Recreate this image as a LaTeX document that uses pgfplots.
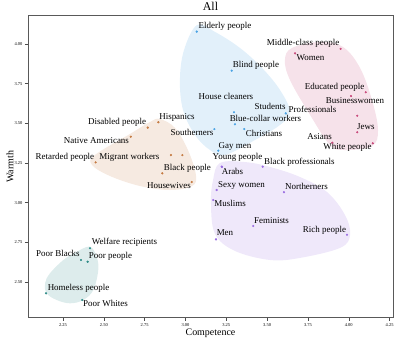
\documentclass[border=0pt]{standalone}
\usepackage{fontspec}
\setmainfont{Liberation Serif}
\usepackage{pgfplots}
\pgfplotsset{compat=1.18}
\definecolor{cB}{HTML}{4BA3E3}
\definecolor{cO}{HTML}{C47A42}
\definecolor{cP}{HTML}{C8497B}
\definecolor{cV}{HTML}{9A6DE0}
\definecolor{cT}{HTML}{2E8B87}
\newcommand\lab[3]{\node[font=\fontsize{9}{10}\selectfont, inner sep=0pt, text height=1.45ex, text depth=0.25ex] at (axis cs:#1,#2) {#3};}
\begin{document}
\begin{tikzpicture}
\begin{axis}[
  at={(0,0)}, anchor=south west,
  scale only axis, width=365bp, height=302bp,
  xmin=2.0357, xmax=4.2708, ymin=2.2754, ymax=4.1783,
  xtick={2.25,2.5,2.75,3,3.25,3.5,3.75,4,4.25},
  ytick={2.5,2.75,3,3.25,3.5,3.75,4},
  xtick pos=bottom, ytick pos=left,
  tick align=outside, major tick length=3bp,
  tick style={color=black!70, line width=0.5pt},
  axis line style={color=black!65, line width=0.9pt},
  /pgf/number format/.cd, fixed, fixed zerofill, precision=2, assume math mode=true,
  /pgfplots/.cd,
  ticklabel style={font=\fontsize{4.5}{5}\selectfont},
  xticklabel style={yshift=1bp},
  yticklabel style={xshift=1bp},
  xlabel={Competence}, xlabel style={font=\fontsize{10}{11}\selectfont, at={(axis description cs:0.5,-0.051)}, anchor=center},
  ylabel={Warmth}, ylabel style={font=\fontsize{10}{11}\selectfont, at={(axis description cs:-0.049,0.5)}, anchor=center, rotate=0},
  clip=false,
]
% hulls
\addplot[draw=none, fill=cB, fill opacity=0.16, smooth cycle, tension=0.6] coordinates {
(3.071,4.120) (3.181,4.076) (3.334,3.975) (3.469,3.849) (3.579,3.710) (3.640,3.572) (3.579,3.490) (3.426,3.395) (3.242,3.301) (3.150,3.332) (3.058,3.427) (2.985,3.584) (2.966,3.773) (2.991,3.962)};
\addplot[draw=none, fill=cO, fill opacity=0.16, smooth cycle, tension=0.6] coordinates {
(2.844,3.527) (2.936,3.471) (3.015,3.332) (3.064,3.175) (3.040,3.105) (2.905,3.080) (2.722,3.105) (2.538,3.168) (2.428,3.238) (2.446,3.301) (2.660,3.433) (2.783,3.509)};
\addplot[draw=none, fill=cP, fill opacity=0.16, smooth cycle, tension=0.6] coordinates {
(3.652,3.975) (3.824,4.013) (3.965,3.981) (4.069,3.849) (4.142,3.647) (4.179,3.458) (4.142,3.357) (3.977,3.332) (3.885,3.364) (3.763,3.553) (3.640,3.773) (3.609,3.899)};
\addplot[draw=none, fill=cV, fill opacity=0.16, smooth cycle, tension=0.6] coordinates {
(3.211,3.250) (3.365,3.256) (3.518,3.225) (3.701,3.162) (3.867,3.067) (3.977,2.922) (4.008,2.796) (3.946,2.715) (3.701,2.652) (3.518,2.639) (3.303,2.696) (3.181,2.803) (3.156,2.998) (3.169,3.143)};
\addplot[draw=none, fill=cT, fill opacity=0.16, smooth cycle, tension=0.6] coordinates {
(2.415,2.723) (2.456,2.660) (2.466,2.576) (2.436,2.450) (2.374,2.387) (2.293,2.366) (2.211,2.387) (2.150,2.429) (2.140,2.492) (2.170,2.555) (2.252,2.639) (2.334,2.691)};
% points
\addplot[only marks, mark=*, mark size=0.9pt, cB, mark options={draw=none}] coordinates {
(3.069,4.078) (3.283,3.832) (3.297,3.570) (3.303,3.494) (3.177,3.464) (3.360,3.464) (3.614,3.563) (3.201,3.328)};
\addplot[only marks, mark=*, mark size=0.9pt, cO, mark options={draw=none}] coordinates {
(2.834,3.507) (2.769,3.473) (2.665,3.416) (2.450,3.254) (2.911,3.300) (2.981,3.300) (2.858,3.185) (3.038,3.130)};
\addplot[only marks, mark=*, mark size=0.9pt, cP, mark options={draw=none}] coordinates {
(3.950,3.969) (3.671,3.941) (4.104,3.696) (4.014,3.672) (4.052,3.548) (4.052,3.444) (3.899,3.378) (4.147,3.374)};
\addplot[only marks, mark=*, mark size=0.9pt, cV, mark options={draw=none}] coordinates {
(3.222,3.227) (3.224,3.226) (3.473,3.227) (3.191,3.080) (3.170,3.017) (3.603,3.066) (3.415,2.853) (3.187,2.769) (3.989,2.798)};
\addplot[only marks, mark=*, mark size=0.9pt, cT, mark options={draw=none}] coordinates {
(2.415,2.713) (2.360,2.639) (2.401,2.628) (2.146,2.429) (2.368,2.387)};
% title
\node[font=\fontsize{12}{13}\selectfont, inner sep=0pt, text height=1.45ex, text depth=0.25ex] at (axis description cs:0.5,1.026) {All};
% labels
\lab{3.242}{4.113}{Elderly people}
\lab{3.432}{3.868}{Blind people}
\lab{3.248}{3.666}{House cleaners}
\lab{3.518}{3.603}{Students}
\lab{3.778}{3.584}{Professionals}
\lab{3.490}{3.527}{Blue-collar workers}
\lab{3.481}{3.433}{Christians}
\lab{3.040}{3.439}{Southerners}
\lab{3.303}{3.357}{Gay men}
\lab{3.319}{3.288}{Young people}
\lab{3.698}{3.256}{Black professionals}
\lab{3.288}{3.193}{Arabs}
\lab{3.343}{3.112}{Sexy women}
\lab{3.741}{3.099}{Northerners}
\lab{3.273}{2.992}{Muslims}
\lab{3.527}{2.885}{Feminists}
\lab{3.851}{2.828}{Rich people}
\lab{3.242}{2.809}{Men}
\lab{2.948}{3.540}{Hispanics}
\lab{2.581}{3.509}{Disabled people}
\lab{2.455}{3.389}{Native Americans}
\lab{2.262}{3.288}{Retarded people}
\lab{2.657}{3.288}{Migrant workers}
\lab{3.012}{3.219}{Black people}
\lab{2.899}{3.105}{Housewives}
\lab{3.720}{4.006}{Middle-class people}
\lab{3.766}{3.912}{Women}
\lab{3.913}{3.729}{Educated people}
\lab{4.038}{3.641}{Businesswomen}
\lab{4.105}{3.477}{Jews}
\lab{3.821}{3.414}{Asians}
\lab{3.992}{3.351}{White people}
\lab{2.627}{2.752}{Welfare recipients}
\lab{2.219}{2.677}{Poor Blacks}
\lab{2.541}{2.664}{Poor people}
\lab{2.345}{2.463}{Homeless people}
\lab{2.510}{2.362}{Poor Whites}
\end{axis}
\pgfresetboundingbox
\useasboundingbox (-28bp,-24.3bp) rectangle (371bp,317.7bp);
\end{tikzpicture}
\end{document}
